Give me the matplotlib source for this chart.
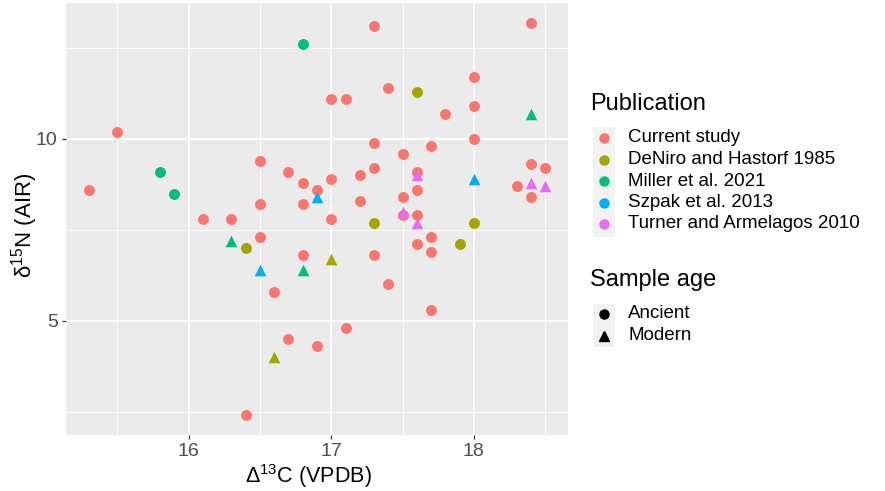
import matplotlib
matplotlib.use("Agg")
import matplotlib.pyplot as plt
from matplotlib.lines import Line2D
from matplotlib.patches import Rectangle

plt.rcParams['font.family'] = ['Liberation Sans', 'DejaVu Sans']
plt.rcParams['mathtext.fontset'] = 'custom'
plt.rcParams['mathtext.rm'] = 'Liberation Sans'
plt.rcParams['mathtext.default'] = 'regular'

publications = ["Current study", "DeNiro and Hastorf 1985", "Miller et al. 2021",
                "Szpak et al. 2013", "Turner and Armelagos 2010"]
colors = ["#F8766D", "#A3A500", "#00BF7D", "#00B0F6", "#E76BF3"]
ages = ["Ancient", "Modern"]

current_x = [15.3, 15.5, 16.1, 16.3, 16.4, 16.5, 16.5, 16.5, 16.6, 16.7, 16.7, 16.8, 16.8, 16.8,
             16.9, 16.9, 17.0, 17.0, 17.0, 17.1, 17.1, 17.2, 17.2, 17.3, 17.3, 17.3, 17.3, 17.4,
             17.4, 17.5, 17.5, 17.5, 17.6, 17.6, 17.6, 17.6, 17.7, 17.7, 17.7, 17.7, 17.8, 18.0,
             18.0, 18.0, 18.3, 18.4, 18.4, 18.4, 18.5]
current_y = [8.6, 10.2, 7.8, 7.8, 2.4, 9.4, 8.2, 7.3, 5.8, 9.1, 4.5, 8.8, 8.2, 6.8,
             8.6, 4.3, 11.1, 8.9, 7.8, 11.1, 4.8, 9.0, 8.3, 13.1, 9.9, 9.2, 6.8, 11.4,
             6.0, 9.6, 8.4, 7.9, 9.1, 8.6, 7.9, 7.1, 9.8, 7.3, 6.9, 5.3, 10.7, 11.7,
             10.9, 10.0, 8.7, 13.2, 9.3, 8.4, 9.2]
current_age = ["Ancient"] * len(current_x)

deniro_x = [16.4, 17.3, 17.6, 17.9, 18.0, 16.6, 17.0]
deniro_y = [7.0, 7.7, 11.3, 7.1, 7.7, 4.0, 6.7]
deniro_age = ["Ancient"] * 5 + ["Modern"] * 2

miller_x = [15.8, 15.9, 16.8, 16.3, 16.8, 18.4]
miller_y = [9.1, 8.5, 12.6, 7.2, 6.4, 10.7]
miller_age = ["Ancient"] * 3 + ["Modern"] * 3

szpak_x = [16.5, 16.9, 18.0]
szpak_y = [6.4, 8.4, 8.9]
szpak_age = ["Modern"] * 3

turner_x = [17.5, 17.6, 17.6, 18.4, 18.5]
turner_y = [8.0, 9.0, 7.7, 8.8, 8.7]
turner_age = ["Modern"] * 5

x_ticks = [16, 17, 18]
y_ticks = [5, 10]

groups = [(current_x, current_y, current_age), (deniro_x, deniro_y, deniro_age),
          (miller_x, miller_y, miller_age), (szpak_x, szpak_y, szpak_age),
          (turner_x, turner_y, turner_age)]
markers = {"Ancient": "o", "Modern": "^"}

W, H = 885, 491
fig = plt.figure(figsize=(W / 100, H / 100), dpi=100)

def fx(px):
    return px / W

def fy(py):
    return 1 - py / H

ax = fig.add_axes([fx(66), fy(435), fx(568) - fx(66), fy(3) - fy(435)])
ax.set_facecolor("#EBEBEB")

for (xs, ys, ag), col in zip(groups, colors):
    for age in ages:
        px = [x for x, a in zip(xs, ag) if a == age]
        py = [y for y, a in zip(ys, ag) if a == age]
        if px:
            ax.scatter(px, py, s=62 if age == "Ancient" else 70, marker=markers[age],
                       color=col, linewidths=0, zorder=3)

allx = sum([g[0] for g in groups], [])
ally = sum([g[1] for g in groups], [])
rx = max(allx) - min(allx)
ry = max(ally) - min(ally)
ax.set_xlim(min(allx) - 0.05 * rx, max(allx) + 0.05 * rx)
ax.set_ylim(min(ally) - 0.05 * ry, max(ally) + 0.05 * ry)

ax.set_xticks(x_ticks)
ax.set_yticks(y_ticks)
ax.set_xticks([15.5, 16.5, 17.5, 18.5], minor=True)
ax.set_yticks([2.5, 7.5, 12.5], minor=True)
ax.grid(which="major", color="white", linewidth=1.3, zorder=0)
ax.grid(which="minor", color="white", linewidth=0.6, zorder=0)
ax.set_axisbelow(True)
for s in ax.spines.values():
    s.set_visible(False)
ax.tick_params(which="major", length=3, width=0.9, color="#333333",
               labelsize=14, labelcolor="#4D4D4D", pad=3)
ax.tick_params(which="minor", length=0)

ax.set_xlabel(r"$\Delta^{13}$C (VPDB)", fontsize=15.5, color="black", va="center")
ax.set_ylabel(r"$\delta^{15}$N (AIR)", fontsize=16, color="black", va="center")
ax.xaxis.set_label_coords((308 - 66) / 502, (435 - 476) / 432)
ax.yaxis.set_label_coords((25 - 66) / 502, (435 - 225) / 432)

# Legends drawn manually in figure pixel coordinates
fig.text(fx(590), fy(104), "Publication", fontsize=17, va="center", ha="left")
fig.patches.append(Rectangle((fx(593), fy(237)), fx(615) - fx(593), fy(127) - fy(237),
                             transform=fig.transFigure, facecolor="#F2F2F2", edgecolor="none"))
pub_y = [138, 159.5, 181, 202.5, 224]
for name, col, yy in zip(publications, colors, pub_y):
    fig.lines.append(Line2D([fx(604)], [fy(yy)], marker="o", markersize=6.5, color=col,
                            linestyle="none", transform=fig.transFigure))
    fig.text(fx(628), fy(yy), name, fontsize=13.5, va="center", ha="left")

fig.text(fx(590), fy(280), "Sample age", fontsize=17, va="center", ha="left")
fig.patches.append(Rectangle((fx(593), fy(347)), fx(615) - fx(593), fy(304) - fy(347),
                             transform=fig.transFigure, facecolor="#F2F2F2", edgecolor="none"))
age_y = [314, 336]
for age, yy in zip(ages, age_y):
    fig.lines.append(Line2D([fx(604)], [fy(yy)], marker=markers[age], markersize=6.5,
                            color="black", linestyle="none", transform=fig.transFigure))
    fig.text(fx(628), fy(yy), age, fontsize=13.5, va="center", ha="left")

fig.savefig("out.png", dpi=100)
